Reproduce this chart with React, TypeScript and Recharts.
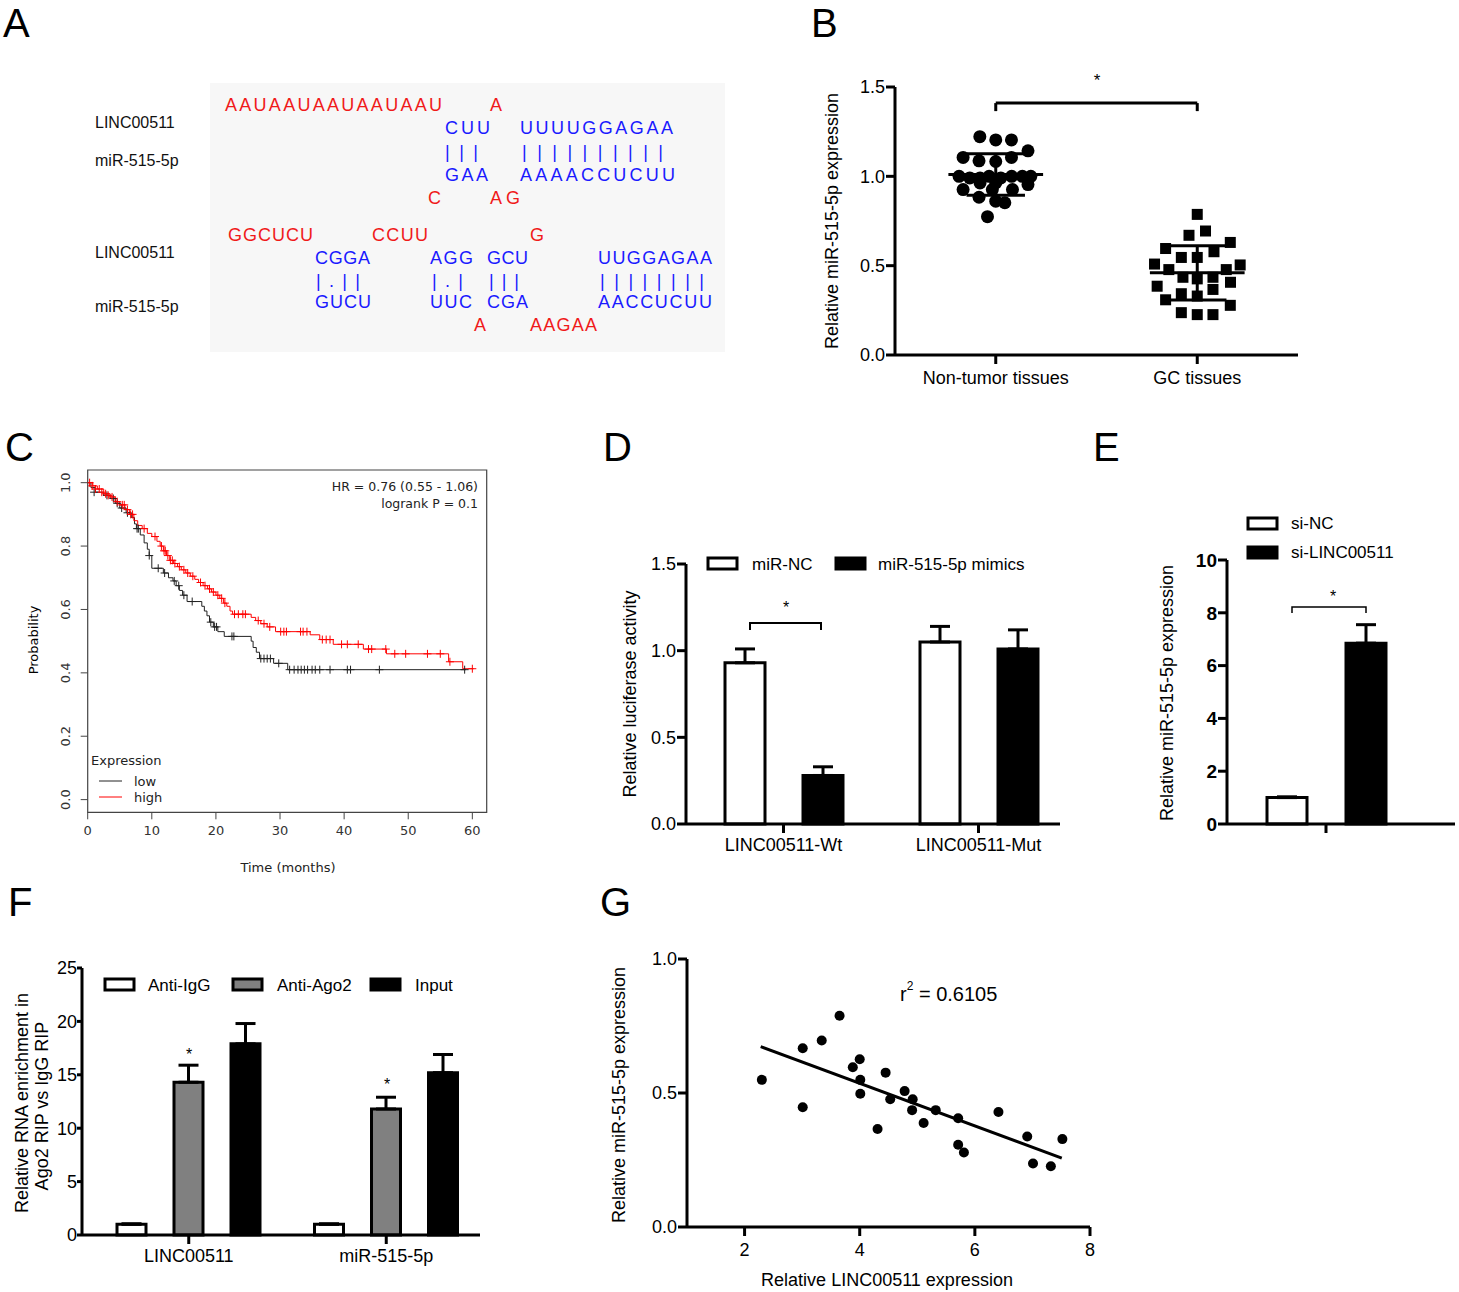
import React from "react";
import {
  ComposedChart,
  ScatterChart,
  BarChart,
  Scatter,
  Line,
  Bar,
  ErrorBar,
  XAxis,
  YAxis,
  ReferenceLine,
  ReferenceArea,
} from "recharts";

const ARIAL = "'Liberation Sans', Arial, sans-serif";
const DEJAVU = "'DejaVu Sans', sans-serif";

// ---- panel A: sequence alignment (text only) ----
const A_NAMES = [
  { text: "LINC00511", y: 122 },
  { text: "miR-515-5p", y: 160 },
  { text: "LINC00511", y: 252 },
  { text: "miR-515-5p", y: 306 },
];
const A_RED = [
  { text: "AAUAAUAAUAAUAAU", x: 225, w: 217, y: 105 },
  { text: "A", x: 490, w: 13, y: 105 },
  { text: "C", x: 428, w: 13, y: 198 },
  { text: "AG", x: 490, w: 30, y: 198 },
  { text: "GGCUCU", x: 228, w: 85, y: 235 },
  { text: "CCUU", x: 372, w: 56, y: 235 },
  { text: "G", x: 530, w: 14, y: 235 },
  { text: "A", x: 474, w: 12, y: 325 },
  { text: "AAGAA", x: 530, w: 67, y: 325 },
];
const A_BLUE = [
  { text: "CUU", x: 445, w: 45, y: 128 },
  { text: "UUUUGGAGAA", x: 520, w: 153, y: 128 },
  { text: "| | |", x: 445, w: 33, y: 152 },
  { text: "| | | | | | | | | |", x: 522, w: 141, y: 152 },
  { text: "GAA", x: 445, w: 43, y: 175 },
  { text: "AAAACCUCUU", x: 520, w: 155, y: 175 },
  { text: "CGGA", x: 315, w: 55, y: 258 },
  { text: "AGG", x: 430, w: 43, y: 258 },
  { text: "GCU", x: 487, w: 41, y: 258 },
  { text: "UUGGAGAA", x: 598, w: 114, y: 258 },
  { text: "| . | |", x: 316, w: 44, y: 281 },
  { text: "| . |", x: 432, w: 31, y: 281 },
  { text: "| | |", x: 489, w: 30, y: 281 },
  { text: "| | | | | | | |", x: 600, w: 104, y: 281 },
  { text: "GUCU", x: 315, w: 56, y: 302 },
  { text: "UUC", x: 430, w: 42, y: 302 },
  { text: "CGA", x: 487, w: 41, y: 302 },
  { text: "AACCUCUU", x: 598, w: 114, y: 302 },
];

// ---- panel B: dot plot (spread, value) ----
const B_GROUPS = ["Non-tumor tissues", "GC tissues"];
const B_NONTUMOR: [number, number][] = [
  [-0.079, 1.222], [0, 1.204], [0.078, 1.204], [0.16, 1.143], [-0.162, 1.106],
  [-0.083, 1.087], [0, 1.083], [0.078, 1.106], [-0.182, 1.0], [-0.129, 0.991],
  [-0.078, 0.991], [-0.033, 1.0], [0.025, 0.991], [0.079, 1.0], [0.132, 1.0],
  [0.174, 1.0], [-0.078, 0.963], [0, 0.963], [0.16, 0.954], [-0.162, 0.926],
  [-0.017, 0.926], [0.083, 0.926], [-0.083, 0.883], [0, 0.861], [0.045, 0.852],
  [-0.041, 0.774],
];
const B_GC: [number, number][] = [
  [0, 0.787], [0.041, 0.694], [-0.041, 0.67], [0.164, 0.63], [-0.157, 0.596],
  [0.083, 0.578], [-0.079, 0.546], [0, 0.546], [-0.212, 0.509], [0.213, 0.504],
  [-0.141, 0.478], [0.144, 0.478], [-0.071, 0.435], [0, 0.426], [0.078, 0.435],
  [0.165, 0.407], [-0.199, 0.385], [0.078, 0.367], [-0.079, 0.343], [0, 0.33],
  [-0.157, 0.309], [0.164, 0.278], [-0.079, 0.237], [0, 0.226], [0.078, 0.226],
];
const B_MEAN = [1.01, 0.46];
const B_SD = [0.116, 0.152];

// ---- panel C: Kaplan-Meier (months, probability) ----
const C_TIME_TICKS = [0, 10, 20, 30, 40, 50, 60];
const C_PROB_TICKS = [0, 0.2, 0.4, 0.6, 0.8, 1.0];
const C_LOW: [number, number][] = [
  [0, 1.0], [0.5, 0.985], [1.2, 0.97], [2.5, 0.96], [3.5, 0.95], [4.3, 0.935],
  [5, 0.92], [6, 0.905], [6.8, 0.89], [7.3, 0.87], [7.6, 0.855], [8.2, 0.835],
  [8.8, 0.81], [9.3, 0.79], [9.6, 0.77], [10, 0.73], [11.8, 0.715], [12.6, 0.7],
  [13.3, 0.69], [13.8, 0.675], [14.3, 0.66], [14.8, 0.645], [15.5, 0.625],
  [17.8, 0.61], [18.2, 0.595], [18.6, 0.58], [19, 0.56], [19.6, 0.545],
  [20.3, 0.53], [21.3, 0.515], [25.5, 0.5], [25.8, 0.48], [26.3, 0.465],
  [26.8, 0.445], [29, 0.43], [31.2, 0.41], [59, 0.41],
];
const C_HIGH: [number, number][] = [
  [0, 1.0], [0.8, 0.99], [1.5, 0.98], [2.5, 0.965], [3.5, 0.955], [4.3, 0.94],
  [5, 0.93], [5.8, 0.915], [6.5, 0.9], [7.2, 0.88], [7.8, 0.865], [8.5, 0.855],
  [9.3, 0.84], [10, 0.83], [10.8, 0.815], [11.3, 0.8], [11.8, 0.785], [12.3, 0.77],
  [12.8, 0.755], [13.4, 0.745], [14, 0.735], [14.6, 0.725], [15.3, 0.715],
  [16, 0.705], [16.7, 0.695], [17.3, 0.685], [18, 0.675], [18.7, 0.665],
  [19.3, 0.655], [20, 0.645], [20.6, 0.635], [21.2, 0.62], [21.7, 0.61],
  [22.2, 0.595], [22.6, 0.585], [25.5, 0.575], [26.2, 0.565], [27, 0.555],
  [28, 0.545], [29.3, 0.53], [34.7, 0.52], [36.2, 0.505], [38.3, 0.49],
  [43, 0.475], [46.6, 0.46], [56.3, 0.435], [58.5, 0.413], [60.2, 0.413],
];
const C_LOW_CENSOR: [number, number][] = [
  [1, 0.97], [3, 0.96], [4, 0.95], [4.6, 0.935], [5.3, 0.92], [6.2, 0.905],
  [7.7, 0.855], [7.9, 0.855], [9.6, 0.77], [11, 0.73], [12, 0.715], [13.5, 0.69],
  [14.2, 0.675], [15, 0.645], [16.3, 0.625], [19.2, 0.56], [19.8, 0.545],
  [20.1, 0.545], [22.5, 0.515], [22.8, 0.515], [27, 0.445], [27.5, 0.445],
  [28, 0.445], [28.5, 0.445], [29.8, 0.43], [31.5, 0.41], [32.2, 0.41],
  [32.8, 0.41], [33.3, 0.41], [33.8, 0.41], [34.3, 0.41], [35, 0.41],
  [35.5, 0.41], [36.2, 0.41], [37.8, 0.41], [40.5, 0.41], [41, 0.41],
  [45.5, 0.41], [58.8, 0.41],
];
const C_HIGH_CENSOR: [number, number][] = [
  [0.3, 1.0], [0.7, 0.99], [1.2, 0.98], [1.8, 0.98], [2.2, 0.97], [2.8, 0.965],
  [3.2, 0.96], [3.8, 0.955], [4.6, 0.94], [5.4, 0.93], [5.7, 0.93], [6.2, 0.915],
  [6.7, 0.9], [7, 0.9], [8.8, 0.855], [10.5, 0.83], [11.5, 0.8], [11.9, 0.785],
  [12.1, 0.785], [12.5, 0.77], [12.9, 0.755], [13.2, 0.755], [13.6, 0.745],
  [14.3, 0.735], [15, 0.725], [15.6, 0.715], [16.4, 0.705], [17.6, 0.685],
  [18.3, 0.675], [19, 0.665], [19.6, 0.655], [20.3, 0.645], [20.9, 0.635],
  [21.4, 0.62], [22.9, 0.585], [23.5, 0.585], [24.2, 0.585], [24.6, 0.585],
  [26.6, 0.565], [27.5, 0.555], [28.4, 0.545], [30.1, 0.53], [30.6, 0.53],
  [31, 0.53], [33.2, 0.53], [33.6, 0.53], [34.2, 0.53], [36.6, 0.505],
  [37.2, 0.505], [37.8, 0.505], [39.6, 0.49], [40.5, 0.49], [42.2, 0.49],
  [43.8, 0.475], [44.3, 0.475], [46.5, 0.475], [47.9, 0.46], [49.6, 0.46],
  [53, 0.46], [55, 0.46], [56.5, 0.435], [60, 0.413],
];

// ---- panel D: luciferase ----
const D_CATS = ["LINC00511-Wt", "LINC00511-Mut"];
const D_NC = [0.93, 1.05];
const D_NC_ERR = [0.08, 0.09];
const D_MIMIC = [0.28, 1.01];
const D_MIMIC_ERR = [0.05, 0.11];

// ---- panel E: si-RNA ----
const E_NC = 1.0;
const E_NC_ERR = 0.03;
const E_SI = 6.85;
const E_SI_ERR = 0.7;

// ---- panel F: RIP ----
const F_CATS = ["LINC00511", "miR-515-5p"];
const F_IGG = [1.0, 1.0];
const F_IGG_ERR = [0.05, 0.05];
const F_AGO2 = [14.3, 11.8];
const F_AGO2_ERR = [1.6, 1.1];
const F_INPUT = [17.9, 15.2];
const F_INPUT_ERR = [1.9, 1.7];

// ---- panel G: correlation ----
const G_X = [2.3, 3.01, 3.01, 3.34, 3.65, 3.88, 4.0, 4.01, 4.01, 4.45, 4.31, 4.53, 4.78,
  4.92, 4.91, 5.11, 5.32, 5.71, 5.71, 5.81, 6.41, 6.91, 7.01, 7.32, 7.52];
const G_Y = [0.549, 0.667, 0.447, 0.696, 0.788, 0.596, 0.626, 0.549, 0.497, 0.576, 0.366,
  0.477, 0.507, 0.477, 0.436, 0.388, 0.436, 0.406, 0.307, 0.278, 0.429, 0.338, 0.237,
  0.227, 0.328];
const G_FIT: [number, number][] = [[2.28, 0.673], [7.51, 0.257]];

// shared GraphPad-style axis props
const gpAxis = {
  axisLine: { stroke: "#000", strokeWidth: 3 },
  tickLine: { stroke: "#000", strokeWidth: 3 },
  tickSize: 9,
};
const gpTick = (size = 18, weight = 400) => ({
  fill: "#000",
  fontSize: size,
  fontFamily: ARIAL,
  fontWeight: weight,
});

const plus = (color: string) => (p: any) => (
  <path
    d={`M${p.cx - 4},${p.cy}H${p.cx + 4}M${p.cx},${p.cy - 4}V${p.cy + 4}`}
    stroke={color}
    strokeWidth={1}
    fill="none"
  />
);

const RotatedTick = (p: any) => (
  <text
    x={p.x - 11}
    y={p.y}
    transform={`rotate(-90 ${p.x - 11} ${p.y})`}
    textAnchor="middle"
    fontSize={13}
    fontFamily={DEJAVU}
    fill="#333"
  >
    {Number(p.payload.value).toFixed(1)}
  </text>
);

const PanelB = () => {
  const nt = B_NONTUMOR.map(([dx, v]) => ({ x: 0.5 + dx, y: v }));
  const gc = B_GC.map(([dx, v]) => ({ x: 1.5 + dx, y: v }));
  const line = { stroke: "#000", strokeWidth: 3, ifOverflow: "visible" as const };
  return (
    <ScatterChart width={540} height={370} margin={{ top: 47, right: 22, bottom: 15, left: 0 }}>
      <XAxis
        type="number"
        dataKey="x"
        domain={[0, 2]}
        ticks={[0.5, 1.5]}
        tickFormatter={(v: number) => B_GROUPS[Math.floor(v)]}
        height={40}
        tickMargin={7}
        tick={gpTick(18)}
        {...gpAxis}
      />
      <YAxis
        type="number"
        dataKey="y"
        domain={[0, 1.5]}
        ticks={[0, 0.5, 1, 1.5]}
        tickFormatter={(v: number) => v.toFixed(1)}
        width={115}
        tickMargin={1}
        tick={gpTick(18)}
        {...gpAxis}
      />
      {B_MEAN.map((m, i) => {
        const c = i + 0.5;
        const s = B_SD[i];
        return (
          <React.Fragment key={i}>
            <ReferenceLine segment={[{ x: c - 0.235, y: m }, { x: c + 0.235, y: m }]} {...line} />
            <ReferenceLine segment={[{ x: c - 0.145, y: m + s }, { x: c + 0.145, y: m + s }]} {...line} />
            <ReferenceLine segment={[{ x: c - 0.145, y: m - s }, { x: c + 0.145, y: m - s }]} {...line} />
            <ReferenceLine segment={[{ x: c, y: m - s }, { x: c, y: m + s }]} {...line} />
          </React.Fragment>
        );
      })}
      <ReferenceLine segment={[{ x: 0.5, y: 1.41 }, { x: 1.5, y: 1.41 }]} {...line} />
      <ReferenceLine segment={[{ x: 0.5, y: 1.41 }, { x: 0.5, y: 1.365 }]} {...line} />
      <ReferenceLine segment={[{ x: 1.5, y: 1.41 }, { x: 1.5, y: 1.365 }]} {...line} />
      <Scatter
        data={nt}
        isAnimationActive={false}
        shape={(p: any) => <circle cx={p.cx} cy={p.cy} r={6.5} fill="#000" />}
      />
      <Scatter
        data={gc}
        isAnimationActive={false}
        shape={(p: any) => <rect x={p.cx - 5.5} y={p.cy - 5.5} width={11} height={11} fill="#000" />}
      />
    </ScatterChart>
  );
};

const PanelC = () => {
  const toPts = (a: [number, number][]) => a.map(([t, p]) => ({ t, p }));
  return (
    <ComposedChart width={500} height={440} margin={{ top: 30, right: 13.3, bottom: 27.7, left: 0 }}>
      <XAxis
        type="number"
        dataKey="t"
        domain={[0, 62.24]}
        ticks={C_TIME_TICKS}
        allowDataOverflow
        axisLine={false}
        tickLine={{ stroke: "#444" }}
        tickSize={7}
        tickMargin={6}
        height={40}
        tick={{ fill: "#333", fontSize: 13, fontFamily: DEJAVU }}
      />
      <YAxis
        type="number"
        dataKey="p"
        domain={[-0.04, 1.04]}
        ticks={C_PROB_TICKS}
        allowDataOverflow
        axisLine={false}
        tickLine={{ stroke: "#444" }}
        tickSize={7}
        tickMargin={0}
        width={87.7}
        tick={<RotatedTick />}
      />
      <ReferenceArea x1={0} x2={62.24} y1={-0.04} y2={1.04} fill="none" stroke="#444" strokeWidth={1.2} ifOverflow="visible" />
      <Line data={toPts(C_LOW)} dataKey="p" type="stepAfter" stroke="#222" strokeWidth={1} dot={false} isAnimationActive={false} />
      <Line data={toPts(C_HIGH)} dataKey="p" type="stepAfter" stroke="#ff0000" strokeWidth={1} dot={false} isAnimationActive={false} />
      <Scatter data={toPts(C_LOW_CENSOR)} dataKey="p" shape={plus("#222")} isAnimationActive={false} />
      <Scatter data={toPts(C_HIGH_CENSOR)} dataKey="p" shape={plus("#ff0000")} isAnimationActive={false} />
    </ComposedChart>
  );
};

const errBar = (key: string) => (
  <ErrorBar dataKey={key} width={10} stroke="#000" strokeWidth={3} direction="y" />
);

const PanelD = () => {
  const data = D_CATS.map((cat, i) => ({
    cat,
    nc: D_NC[i],
    ncErr: [0, D_NC_ERR[i]],
    mimic: D_MIMIC[i],
    mimicErr: [0, D_MIMIC_ERR[i]],
  }));
  return (
    <BarChart width={480} height={330} data={data} margin={{ top: 24, right: 10, bottom: 16, left: 0 }} barSize={40} barGap={38}>
      <XAxis dataKey="cat" padding={{ left: 0, right: -16 }} height={30} tickMargin={5} tick={gpTick(18)} {...gpAxis} />
      <YAxis
        domain={[0, 1.5]}
        ticks={[0, 0.5, 1, 1.5]}
        tickFormatter={(v: number) => v.toFixed(1)}
        width={96}
        tickMargin={1}
        tick={gpTick(18)}
        {...gpAxis}
      />
      <Bar dataKey="nc" fill="#fff" stroke="#000" strokeWidth={3} isAnimationActive={false}>
        {errBar("ncErr")}
      </Bar>
      <Bar dataKey="mimic" fill="#000" stroke="#000" strokeWidth={3} isAnimationActive={false}>
        {errBar("mimicErr")}
      </Bar>
    </BarChart>
  );
};

const PanelE = () => {
  const data = [{ cat: "", nc: E_NC, ncErr: [0, E_NC_ERR], si: E_SI, siErr: [0, E_SI_ERR] }];
  return (
    <BarChart width={319} height={320} data={data} margin={{ top: 20, right: 4, bottom: 6, left: 0 }} barSize={40} barGap={39}>
      <XAxis dataKey="cat" padding={{ left: 0, right: 30 }} height={30} tick={gpTick(18)} {...gpAxis} />
      <YAxis domain={[0, 10]} ticks={[0, 2, 4, 6, 8, 10]} width={87} tickMargin={1} tick={gpTick(19, 700)} {...gpAxis} />
      <Bar dataKey="nc" fill="#fff" stroke="#000" strokeWidth={3} isAnimationActive={false}>
        {errBar("ncErr")}
      </Bar>
      <Bar dataKey="si" fill="#000" stroke="#000" strokeWidth={3} isAnimationActive={false}>
        {errBar("siErr")}
      </Bar>
    </BarChart>
  );
};

const PanelF = () => {
  const data = F_CATS.map((cat, i) => ({
    cat,
    igg: F_IGG[i],
    iggErr: [0, F_IGG_ERR[i]],
    ago2: F_AGO2[i],
    ago2Err: [0, F_AGO2_ERR[i]],
    input: F_INPUT[i],
    inputErr: [0, F_INPUT_ERR[i]],
  }));
  return (
    <BarChart width={490} height={320} data={data} margin={{ top: 18, right: 10, bottom: 5, left: 0 }} barSize={29} barGap={28}>
      <XAxis dataKey="cat" padding={{ left: 8, right: -5 }} height={30} tickMargin={5} tick={gpTick(18)} {...gpAxis} />
      <YAxis
        domain={[0, 25]}
        ticks={[0, 5, 10, 15, 20, 25]}
        width={82}
        tickMargin={0}
        tick={gpTick(18)}
        {...gpAxis}
        tickSize={5}
      />
      <Bar dataKey="igg" fill="#fff" stroke="#000" strokeWidth={3} isAnimationActive={false}>
        {errBar("iggErr")}
      </Bar>
      <Bar dataKey="ago2" fill="#808080" stroke="#000" strokeWidth={3} isAnimationActive={false}>
        {errBar("ago2Err")}
      </Bar>
      <Bar dataKey="input" fill="#000" stroke="#000" strokeWidth={3} isAnimationActive={false}>
        {errBar("inputErr")}
      </Bar>
    </BarChart>
  );
};

const PanelG = () => {
  const pts = G_X.map((x, i) => ({ x, y: G_Y[i] }));
  return (
    <ScatterChart width={500} height={330} margin={{ top: 19, right: 10, bottom: 8, left: 0 }}>
      <XAxis type="number" dataKey="x" domain={[1, 8]} ticks={[2, 4, 6, 8]} height={35} tickMargin={7} tick={gpTick(18)} {...gpAxis} />
      <YAxis
        type="number"
        dataKey="y"
        domain={[0, 1]}
        ticks={[0, 0.5, 1]}
        tickFormatter={(v: number) => v.toFixed(1)}
        width={87}
        tickMargin={1}
        tick={gpTick(18)}
        {...gpAxis}
      />
      <ReferenceLine
        segment={[{ x: G_FIT[0][0], y: G_FIT[0][1] }, { x: G_FIT[1][0], y: G_FIT[1][1] }]}
        stroke="#000"
        strokeWidth={3}
      />
      <Scatter data={pts} isAnimationActive={false} shape={(p: any) => <circle cx={p.cx} cy={p.cy} r={5} fill="#000" />} />
    </ScatterChart>
  );
};

const VTitle = ({ x, y, text, size = 18, font = ARIAL }: { x: number; y: number; text: string; size?: number; font?: string }) => (
  <text
    transform={`translate(${x} ${y}) rotate(-90)`}
    textAnchor="middle"
    dominantBaseline="central"
    fontSize={size}
    fontFamily={font}
    fill="#000"
  >
    {text}
  </text>
);

const LegendBox = ({ x, y, fill }: { x: number; y: number; fill: string }) => (
  <rect x={x} y={y} width={29} height={11} fill={fill} stroke="#000" strokeWidth={3} />
);

const Overlay = () => (
  <svg width={1459} height={1292} style={{ position: "absolute", left: 0, top: 0, pointerEvents: "none" }}>
    {/* panel letters */}
    {[
      ["A", 3, 37], ["B", 811, 37], ["C", 5, 461], ["D", 603, 461],
      ["E", 1093, 461], ["F", 8, 916], ["G", 600, 916],
    ].map(([t, x, y]) => (
      <text key={t as string} x={x as number} y={y as number} fontSize={40} fontFamily={ARIAL} fill="#000">
        {t}
      </text>
    ))}

    {/* A */}
    <rect x={210} y={83} width={515} height={269} fill="#f7f7f7" />
    {A_NAMES.map((n, i) => (
      <text key={i} x={95} y={n.y} dominantBaseline="central" fontSize={16} fontFamily={ARIAL} fill="#111">
        {n.text}
      </text>
    ))}
    {A_RED.map((s, i) => (
      <text key={"r" + i} x={s.x} y={s.y} textLength={s.w} lengthAdjust="spacing" dominantBaseline="central" fontSize={18} fontFamily={ARIAL} fill="#f01a1a">
        {s.text}
      </text>
    ))}
    {A_BLUE.map((s, i) => (
      <text key={"b" + i} x={s.x} y={s.y} textLength={s.w} lengthAdjust="spacing" dominantBaseline="central" fontSize={18} fontFamily={ARIAL} fill="#1a1aff">
        {s.text}
      </text>
    ))}

    {/* B */}
    <VTitle x={832} y={221} text="Relative miR-515-5p expression" />
    <text x={1097} y={86} textAnchor="middle" fontSize={17} fontFamily={ARIAL}>*</text>

    {/* C */}
    <VTitle x={33} y={640} text="Probability" size={13} font={DEJAVU} />
    <text x={288} y={867} textAnchor="middle" dominantBaseline="central" fontSize={13} fontFamily={DEJAVU} fill="#222">Time (months)</text>
    <text x={478} y={486} textAnchor="end" dominantBaseline="central" fontSize={12.5} fontFamily={DEJAVU} fill="#222">HR = 0.76 (0.55 - 1.06)</text>
    <text x={478} y={503} textAnchor="end" dominantBaseline="central" fontSize={12.5} fontFamily={DEJAVU} fill="#222">logrank P = 0.1</text>
    <text x={91} y={760} dominantBaseline="central" fontSize={13} fontFamily={DEJAVU} fill="#222">Expression</text>
    <line x1={99} x2={122} y1={781} y2={781} stroke="#222" />
    <text x={134} y={781} dominantBaseline="central" fontSize={13} fontFamily={DEJAVU} fill="#222">low</text>
    <line x1={99} x2={122} y1={797} y2={797} stroke="#ff0000" />
    <text x={134} y={797} dominantBaseline="central" fontSize={13} fontFamily={DEJAVU} fill="#222">high</text>

    {/* D */}
    <VTitle x={630} y={694} text="Relative luciferase activity" />
    <LegendBox x={708} y={558} fill="#fff" />
    <text x={752} y={564} dominantBaseline="central" fontSize={17} fontFamily={ARIAL}>miR-NC</text>
    <LegendBox x={836} y={558} fill="#000" />
    <text x={878} y={564} dominantBaseline="central" fontSize={17} fontFamily={ARIAL}>miR-515-5p mimics</text>
    <path d="M750,630V623H821V630" stroke="#000" strokeWidth={2} fill="none" />
    <text x={786} y={613} textAnchor="middle" fontSize={16} fontFamily={ARIAL}>*</text>

    {/* E */}
    <VTitle x={1167} y={693} text="Relative miR-515-5p expression" />
    <LegendBox x={1248} y={518} fill="#fff" />
    <text x={1291} y={523} dominantBaseline="central" fontSize={17} fontFamily={ARIAL}>si-NC</text>
    <LegendBox x={1248} y={547} fill="#000" />
    <text x={1291} y={552} dominantBaseline="central" fontSize={17} fontFamily={ARIAL}>si-LINC00511</text>
    <path d="M1292,613V607H1366V613" stroke="#000" strokeWidth={1.5} fill="none" />
    <text x={1333} y={602} textAnchor="middle" fontSize={16} fontFamily={ARIAL}>*</text>

    {/* F */}
    <VTitle x={22} y={1103} text="Relative RNA enrichment in" />
    <VTitle x={42} y={1106} text="Ago2 RIP vs IgG RIP" />
    <LegendBox x={105} y={979} fill="#fff" />
    <text x={148} y={985} dominantBaseline="central" fontSize={17} fontFamily={ARIAL}>Anti-IgG</text>
    <LegendBox x={233} y={979} fill="#808080" />
    <text x={277} y={985} dominantBaseline="central" fontSize={17} fontFamily={ARIAL}>Anti-Ago2</text>
    <LegendBox x={371} y={979} fill="#000" />
    <text x={415} y={985} dominantBaseline="central" fontSize={17} fontFamily={ARIAL}>Input</text>
    <text x={189} y={1060} textAnchor="middle" fontSize={16} fontFamily={ARIAL}>*</text>
    <text x={387} y={1090} textAnchor="middle" fontSize={16} fontFamily={ARIAL}>*</text>

    {/* G */}
    <VTitle x={619} y={1095} text="Relative miR-515-5p expression" />
    <text x={887} y={1280} textAnchor="middle" dominantBaseline="central" fontSize={18} fontFamily={ARIAL}>Relative LINC00511 expression</text>
    <text x={900} y={994} dominantBaseline="central" fontSize={20} fontFamily={ARIAL}>
      r<tspan fontSize={12} dy={-8}>2</tspan>
      <tspan dy={8}> = 0.6105</tspan>
    </text>
  </svg>
);

const at = (left: number, top: number, child: React.ReactNode) => (
  <div style={{ position: "absolute", left, top }}>{child}</div>
);

export default function App() {
  return (
    <div style={{ position: "absolute", left: 0, top: 0, width: 1459, height: 1292, background: "#fff", fontFamily: ARIAL }}>
      {at(780, 40, <PanelB />)}
      {at(0, 440, <PanelC />)}
      {at(590, 540, <PanelD />)}
      {at(1140, 540, <PanelE />)}
      {at(0, 950, <PanelF />)}
      {at(600, 940, <PanelG />)}
      <Overlay />
    </div>
  );
}
